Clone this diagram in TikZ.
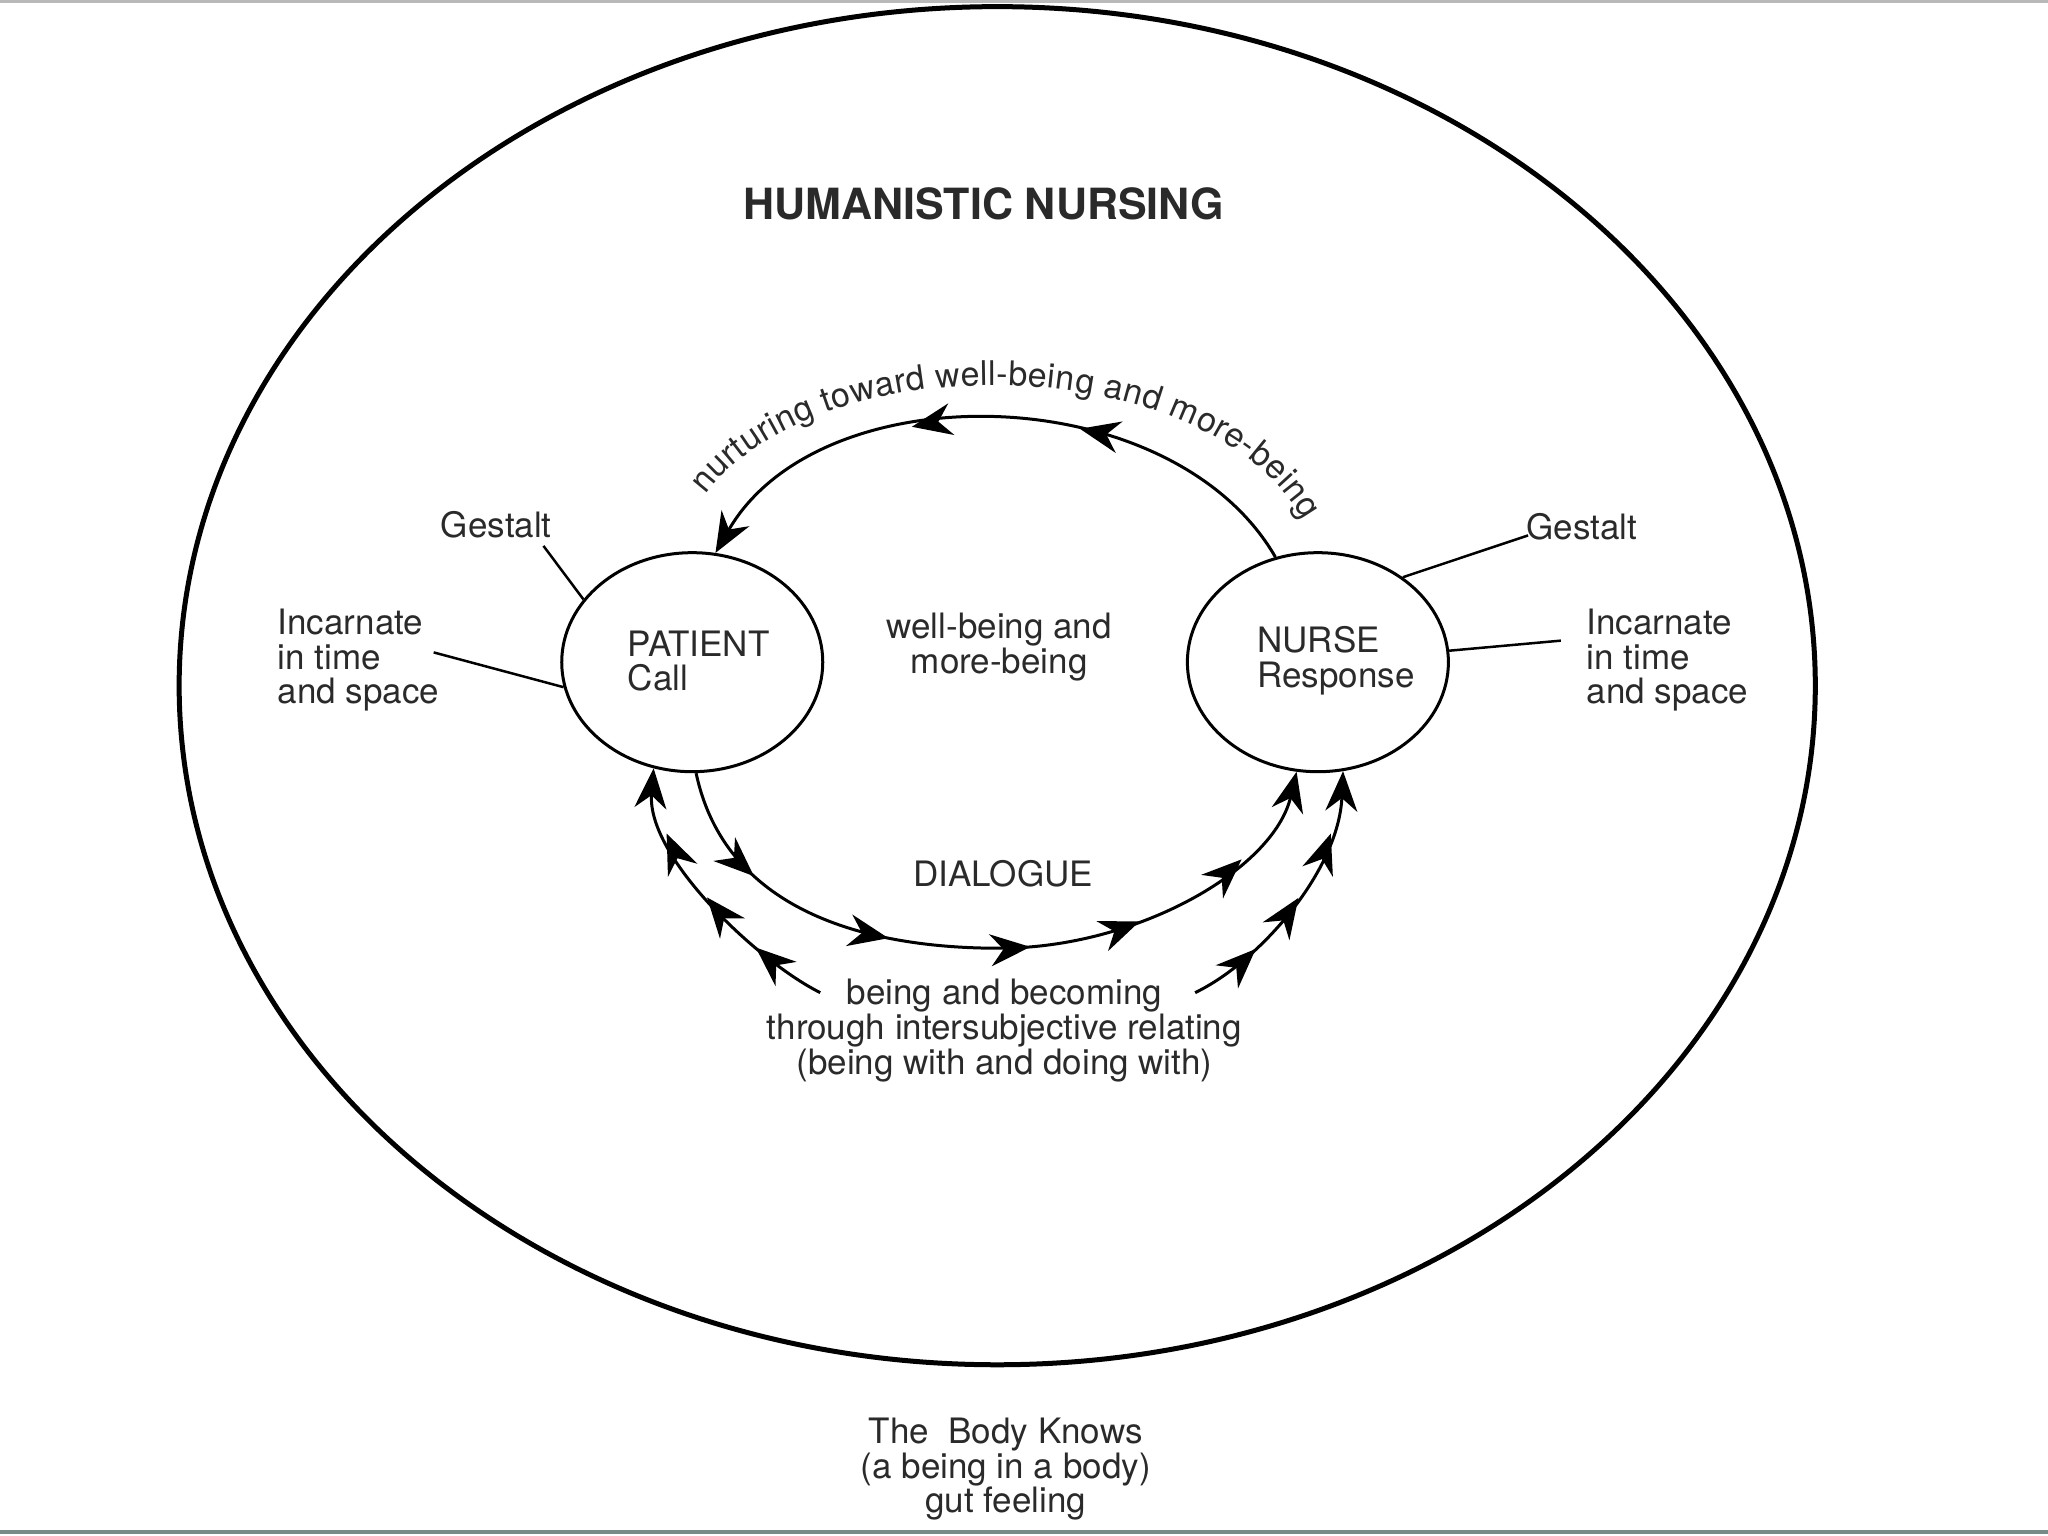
\documentclass[tikz,border=0pt]{standalone}
\usepackage{fontspec}
\setmainfont{TeX Gyre Heros}
\usetikzlibrary{shapes.geometric,arrows.meta,decorations.markings,decorations.text,calc}
\definecolor{ink}{HTML}{2A2A2A}
\newcommand\arcfont{\fontsize{34}{36}\selectfont\color{ink}}
\begin{document}
\begin{tikzpicture}[x=1.306pt,y=1.306pt,
  >={Stealth[length=40pt,width=32pt,inset=13pt]},
  txt/.style={text=ink,font=\fontsize{35}{34.6}\selectfont,inner sep=2pt},
  ttl/.style={text=ink,font=\fontsize{43}{46}\selectfont\bfseries},
  actor/.style={ellipse,draw,line width=3pt,minimum width=261pt,minimum height=219pt,inner sep=0pt},
  world/.style={ellipse,draw,line width=5pt,minimum width=1636pt,minimum height=1358pt,inner sep=0pt},
  leader/.style={line width=2.5pt},
  flow/.style={line width=3pt,->}]
\useasboundingbox (0,0) rectangle (1568,1176);
% screenshot frame lines
\draw[line width=3pt,color=gray!55] (0,1175) -- (1568,1175);
\draw[line width=4pt,color={rgb,255:red,120;green,140;blue,135}] (0,3.3) -- (1568,3.3);

\node[world] (outer) at (763.5,651) {};
\node[ttl] (title) at (753,1020) {HUMANISTIC NURSING};

\node[actor] (patient) at (530,669) {};
\node[actor] (nurse) at (1009,669) {};
\node[txt,align=left,anchor=west] (ptxt) at (479,670) {PATIENT\\Call};
\node[txt,align=left,anchor=west] (ntxt) at (961,670) {NURSE\\Response};
\node[txt,align=center] (wb) at (765,680.5) {well-being and\\more-being};

\node[txt] (gl) at (380,774) {Gestalt};
\node[txt,align=left,anchor=west] (il) at (211,670.5) {Incarnate\\in time\\and space};
\node[txt] (gr) at (1211,773) {Gestalt};
\node[txt,align=left,anchor=west] (ir) at (1213,670.5) {Incarnate\\in time\\and space};

\draw[leader] ($(gl.south east)+(-8,-4)$) -- (patient.150);
\draw[leader] ($(il.east)+(-6,6)$) -- (patient.191);
\draw[leader] ($(gr.south west)+(3,5)$) -- (nurse.45);
\draw[leader] ($(ir.west)+(-18,15)$) -- (nurse.5);

% nurturing arc
\draw[flow,postaction={decorate},decoration={markings,
   mark=at position 0.37 with {\arrow{>}},
   mark=at position 0.63 with {\arrow{>}}}]
  (nurse.112) .. controls (897,887) and (628,892) .. (patient.78);
\path[decorate,decoration={text along path,
   text={|\arcfont|nurturing toward well-being and more-being},
   text align=fit to path}]
  (540,797) .. controls (625,912) and (920,912) .. (998,778);

% dialogue
\node[txt] (dlg) at (768,507) {DIALOGUE};
\draw[flow,postaction={decorate},decoration={markings,
   mark=at position 0.16 with {\arrow{>}},
   mark=at position 0.36 with {\arrow{>}},
   mark=at position 0.55 with {\arrow{>}},
   mark=at position 0.70 with {\arrow{>}},
   mark=at position 0.86 with {\arrow{>}}}]
  (patient.272) .. controls (555,480) and (660,450) .. (765,450)
  .. controls (870,450) and (975,510) .. (nurse.259);

% being and becoming
\node[txt,align=center] (bb) at (769,387) {being and becoming\\through intersubjective relating\\(being with and doing with)};
\coordinate (bl) at (628,416);
\coordinate (br) at (915,416);
\draw[flow,postaction={decorate},decoration={markings,
   mark=at position 0.27 with {\arrow{>}},
   mark=at position 0.51 with {\arrow{>}},
   mark=at position 0.77 with {\arrow{>}}}]
  (bl) .. controls (580,440) and (495,520) .. (patient.250);
\draw[flow,postaction={decorate},decoration={markings,
   mark=at position 0.27 with {\arrow{>}},
   mark=at position 0.51 with {\arrow{>}},
   mark=at position 0.77 with {\arrow{>}}}]
  (br) .. controls (965,440) and (1025,510) .. (nurse.283);

\node[txt,align=center] (body) at (770,51) {The\ \ Body Knows\\(a being in a body)\\gut feeling};
\end{tikzpicture}
\end{document}
